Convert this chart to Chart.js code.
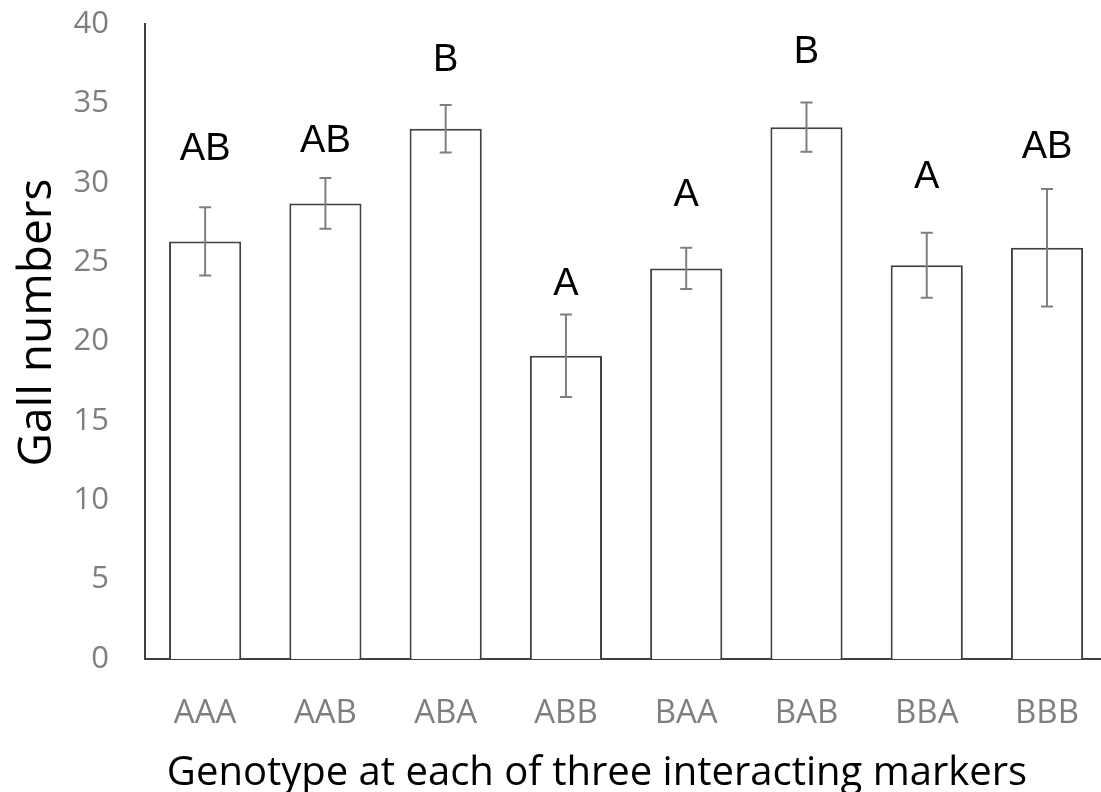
<!DOCTYPE html>
<html>
<head>
<meta charset="utf-8">
<script src="https://cdn.jsdelivr.net/npm/chart.js@4"></script>
<style>
  html, body { margin: 0; padding: 0; background: #fff; overflow: hidden; }
  #wrap { width: 1114px; height: 792px; }
</style>
</head>
<body>
<div id="wrap"><canvas id="gallChart" width="1114" height="792"></canvas></div>
<script>
// genotypes and mean gall numbers
const genotypes = ['AAA', 'AAB', 'ABA', 'ABB', 'BAA', 'BAB', 'BBA', 'BBB'];
const gallMeans = [26.3, 28.7, 33.4, 19.1, 24.6, 33.5, 24.8, 25.9];
const gallErrors = [2.15, 1.6, 1.5, 2.6, 1.3, 1.55, 2.05, 3.7];
// significance letters and the height (in gall units) where they sit
const groupLetters = ['AB', 'AB', 'B', 'A', 'A', 'B', 'A', 'AB'];
const letterHeights = [32.1, 32.6, 37.7, 23.6, 29.2, 38.2, 30.3, 32.2];
const yTicks = [0, 5, 10, 15, 20, 25, 30, 35, 40];
const xTitle = 'Genotype at each of three interacting markers';
const yTitle = 'Gall numbers';

// draws error bars, the letters above the bars and both axis titles
const errorBarPlugin = {
  id: 'errorBars',
  afterDatasetsDraw(chart) {
    const ctx = chart.ctx;
    const x = chart.scales.x;
    const y = chart.scales.y;
    ctx.save();
    ctx.strokeStyle = '#7f7f7f';
    ctx.lineWidth = 2;
    gallMeans.forEach((m, i) => {
      const px = x.getPixelForValue(i);
      const top = y.getPixelForValue(m + gallErrors[i]);
      const bot = y.getPixelForValue(m - gallErrors[i]);
      ctx.beginPath();
      ctx.moveTo(px, top); ctx.lineTo(px, bot);
      ctx.moveTo(px - 6, top); ctx.lineTo(px + 6, top);
      ctx.moveTo(px - 6, bot); ctx.lineTo(px + 6, bot);
      ctx.stroke();
    });
    ctx.fillStyle = '#000';
    ctx.font = "38px 'Liberation Sans', Arial, sans-serif";
    ctx.textAlign = 'center';
    ctx.textBaseline = 'middle';
    groupLetters.forEach((t, i) => {
      ctx.fillText(t, x.getPixelForValue(i), y.getPixelForValue(letterHeights[i]));
    });
    // axis titles, both a little off the plot centre like the original
    ctx.font = "40px 'Open Sans', sans-serif";
    ctx.fillText(xTitle, x.left + 452, x.bottom - 18);
    ctx.font = "46px 'Open Sans', sans-serif";
    ctx.translate(38, y.getPixelForValue(21.2));
    ctx.rotate(-Math.PI / 2);
    ctx.fillText(yTitle, 0, 0);
    ctx.restore();
  }
};

const ctx = document.getElementById('gallChart').getContext('2d');
new Chart(ctx, {
  type: 'bar',
  data: {
    labels: genotypes,
    datasets: [{
      data: gallMeans,
      backgroundColor: '#ffffff',
      borderColor: '#404040',
      borderWidth: 2,
      borderSkipped: 'bottom',
      barPercentage: 0.6,
      categoryPercentage: 1.0
    }]
  },
  options: {
    responsive: false,
    animation: false,
    layout: { padding: { top: 4, right: 0, left: 0, bottom: 0 } },
    plugins: {
      legend: { display: false },
      tooltip: { enabled: false }
    },
    scales: {
      x: {
        grid: { display: false, drawTicks: false },
        border: { display: true, color: '#404040', width: 2 },
        ticks: {
          color: '#7f7f7f',
          padding: 35,
          font: { family: "'Open Sans', sans-serif", size: 33 }
        },
        title: { display: false },
        afterFit: (scale) => { scale.height = 133; }
      },
      y: {
        min: 0,
        max: 40,
        afterBuildTicks: (scale) => { scale.ticks = yTicks.map(v => ({ value: v })); },
        grid: { display: false, drawTicks: false },
        border: { display: true, color: '#404040', width: 2 },
        ticks: {
          color: '#7f7f7f',
          padding: 36,
          font: { family: "'Open Sans', sans-serif", size: 31 }
        },
        title: { display: false },
        afterFit: (scale) => {
          scale.width = 145;
          scale.paddingTop = 24;
          scale.paddingBottom = 0;
        }
      }
    }
  },
  plugins: [errorBarPlugin]
});
</script>
</body>
</html>
